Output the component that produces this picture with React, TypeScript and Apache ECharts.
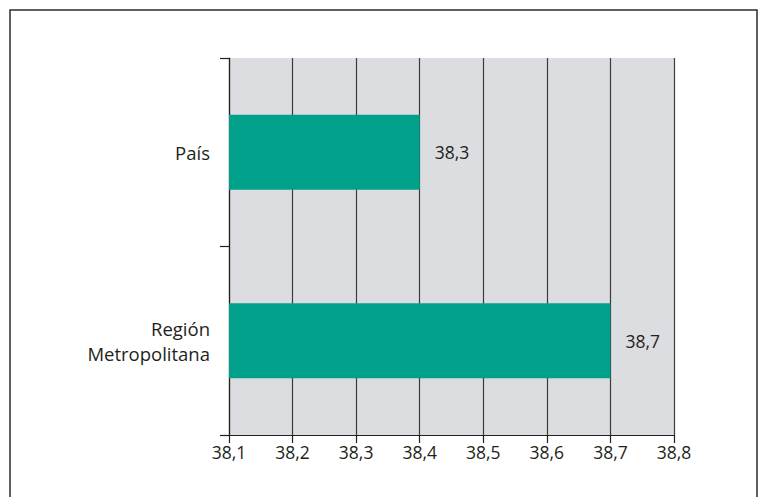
import React, { useEffect, useRef } from "react";
import * as echarts from "echarts";

const categories = ["País", "Región\nMetropolitana"];
const barEnds = [38.4, 38.7];
const valueLabels = ["38,3", "38,7"];
const axisMin = 38.1;
const axisMax = 38.8;
const axisStep = 0.1;

export default function App() {
  const ref = useRef<HTMLDivElement>(null);
  useEffect(() => {
    if (!ref.current) return;
    const chart = echarts.init(ref.current, undefined, { renderer: "svg" });
    const font = "'Open Sans', 'Noto Sans', sans-serif";
    chart.setOption({
      animation: false,
      backgroundColor: "#ffffff",
      textStyle: { fontFamily: font },
      graphic: [
        {
          type: "rect",
          shape: { x: 10, y: 10, width: 747, height: 520 },
          style: { fill: "none", stroke: "#2b2b2b", lineWidth: 1.5 },
          silent: true,
          z: 10,
        },
      ],
      grid: {
        left: 229,
        top: 58,
        width: 445,
        height: 377,
        show: true,
        backgroundColor: "#dcdde0",
        borderWidth: 0,
      },
      xAxis: {
        type: "value",
        min: axisMin,
        max: axisMax,
        interval: axisStep,
        axisLine: { show: true, lineStyle: { color: "#231f20", width: 1.2 } },
        axisTick: { show: true, length: 8, lineStyle: { color: "#231f20", width: 1.2 } },
        splitLine: { show: true, lineStyle: { color: "#3c3c3c", width: 1.2 } },
        axisLabel: {
          color: "#231f20",
          fontSize: 17.5,
          fontFamily: font,
          margin: 8,
          formatter: (v: number) => v.toFixed(1).replace(".", ","),
        },
      },
      yAxis: {
        type: "category",
        data: categories,
        inverse: true,
        axisLine: { show: true, lineStyle: { color: "#231f20", width: 1.2 } },
        axisTick: { show: true, length: 9, lineStyle: { color: "#231f20", width: 1.2 } },
        axisLabel: {
          color: "#231f20",
          fontSize: 18.5,
          fontFamily: font,
          margin: 19,
          lineHeight: 25,
          align: "right",
        },
      },
      series: [
        {
          type: "bar",
          data: barEnds,
          barWidth: 75,
          itemStyle: { color: "#00a08b" },
          label: {
            show: true,
            position: "right",
            distance: 15,
            color: "#231f20",
            fontSize: 17.5,
            fontFamily: font,
            formatter: (p: any) => valueLabels[p.dataIndex],
          },
        },
      ],
    });
    return () => chart.dispose();
  }, []);
  return (
    <div
      ref={ref}
      style={{ position: "fixed", left: 0, top: 0, width: 767, height: 497 }}
    />
  );
}
